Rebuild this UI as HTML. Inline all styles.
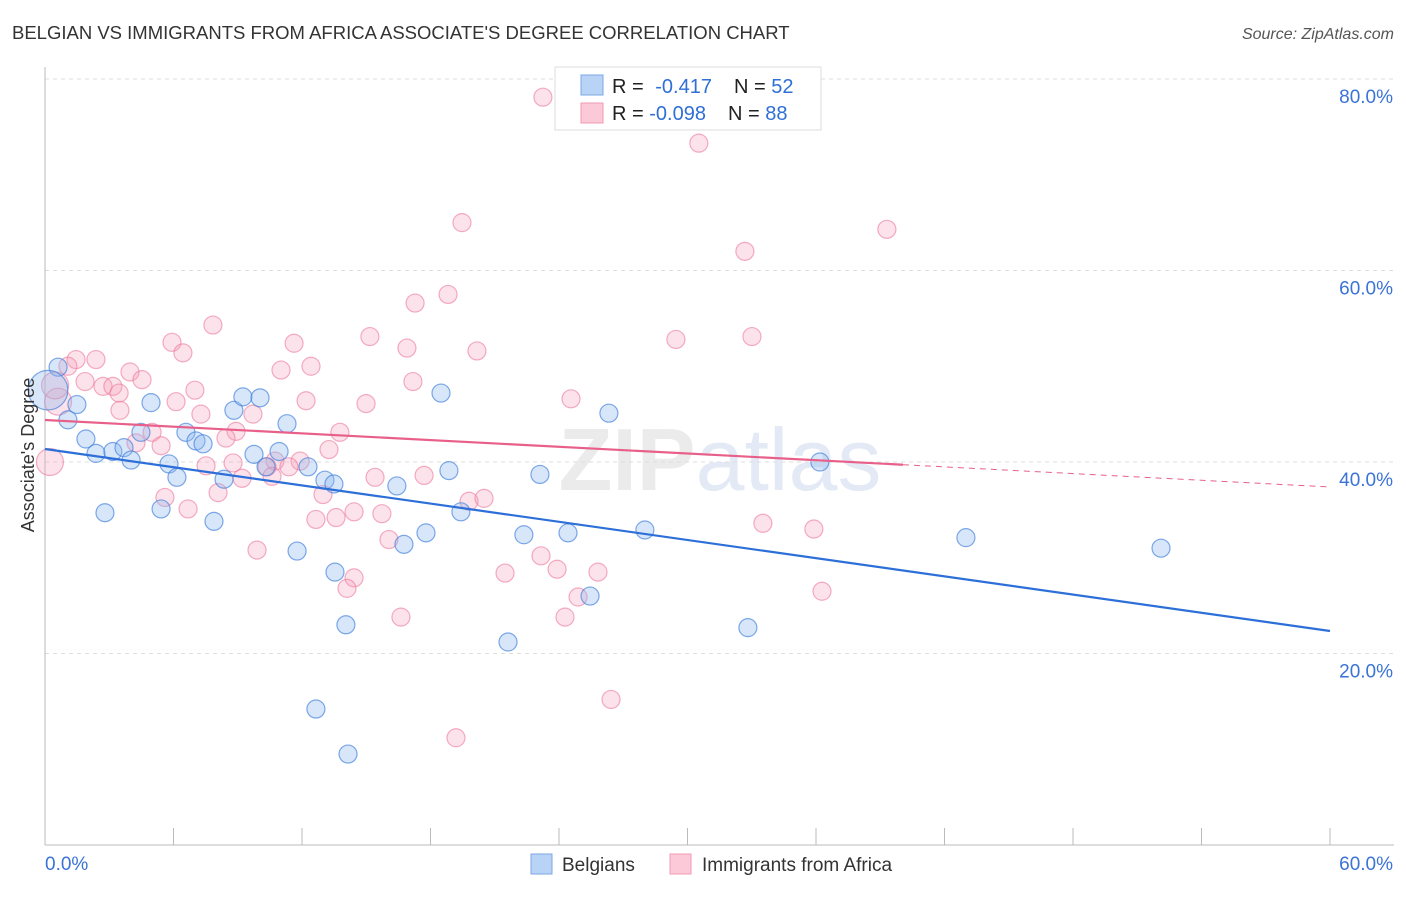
<!DOCTYPE html>
<html><head><meta charset="utf-8"><style>
body{margin:0;background:#fff;font-family:"Liberation Sans",sans-serif;}
svg text{font-family:"Liberation Sans",sans-serif;}
</style></head><body>
<svg id="chart" width="1406" height="892" xmlns="http://www.w3.org/2000/svg">
<text x="12" y="39" font-size="18.5" fill="#333">BELGIAN VS IMMIGRANTS FROM AFRICA ASSOCIATE'S DEGREE CORRELATION CHART</text>
<text x="1394" y="39" font-size="16" fill="#555" font-style="italic" text-anchor="end">Source: ZipAtlas.com</text>
<text x="720" y="490" font-size="88" fill="#ebebeb" text-anchor="middle" font-weight="bold">ZIP<tspan fill="#e3eaf6" font-weight="normal">atlas</tspan></text>
<g id="grid"></g>
<g id="axes"></g>
<g id="marks"></g>
<g id="trends"></g>
<text transform="translate(34,455) rotate(-90)" font-size="18" fill="#333" text-anchor="middle">Associate's Degree</text>
<g>
<rect x="555" y="67" width="266" height="63" fill="#fff" stroke="#ddd"/>
<rect x="581" y="75" width="22" height="20" fill="#b9d3f6" stroke="#7aa7e6"/>
<rect x="581" y="103" width="22" height="20" fill="#fbc9d7" stroke="#f19ab3"/>
<text x="612" y="93" font-size="20" fill="#222">R = <tspan fill="#2f6fd6" dx="6">-0.417</tspan><tspan dx="22" fill="#222">N = </tspan><tspan fill="#2f6fd6">52</tspan></text>
<text x="612" y="120" font-size="20" fill="#222">R = <tspan fill="#2f6fd6">-0.098</tspan><tspan dx="22" fill="#222">N = </tspan><tspan fill="#2f6fd6">88</tspan></text>
</g>
<g>
<rect x="531" y="854" width="21" height="20" fill="#b9d3f6" stroke="#7aa7e6"/>
<text x="562" y="871" font-size="19" fill="#333">Belgians</text>
<rect x="670" y="854" width="21" height="20" fill="#fbc9d7" stroke="#f19ab3"/>
<text x="702" y="871" font-size="19" fill="#333">Immigrants from Africa</text>
</g>
</svg>
<script>
const blueX=[0.61,1.49,1.07,1.91,2.38,2.80,3.17,3.69,4.02,4.48,4.95,5.42,5.79,6.16,6.58,7.05,7.38,7.89,8.36,8.82,9.24,9.76,10.04,10.32,10.93,11.30,11.77,12.28,12.65,13.07,13.49,13.54,14.05,14.15,16.43,16.76,17.79,18.49,18.86,19.42,21.62,22.36,23.11,24.42,25.45,26.33,28.01,32.82,36.18,43.00,52.11,0.14];
const blueY=[49.9,46.0,44.4,42.4,40.9,34.7,41.1,41.5,40.2,43.1,46.2,35.1,39.8,38.4,43.1,42.2,41.9,33.8,38.2,45.4,46.8,40.8,46.7,39.5,41.1,44.0,30.7,39.5,14.2,38.1,37.7,28.5,23.0,9.5,37.5,31.4,32.6,47.2,39.1,34.8,21.2,32.4,38.7,32.6,26.0,45.1,32.9,22.7,40.0,32.1,31.0,47.5];
const blueSize=[1,1,1,1,1,1,1,1,1,1,1,1,1,1,1,1,1,1,1,1,1,1,1,1,1,1,1,1,1,1,1,1,1,1,1,1,1,1,1,1,1,1,1,1,1,1,1,1,1,1,1,2.2];
const pinkX=[23.25,30.53,19.47,39.31,32.68,18.82,17.28,7.84,15.17,29.46,33.01,5.93,11.63,6.44,16.90,20.17,2.38,1.45,1.07,12.42,11.02,3.97,17.18,4.53,1.87,2.71,3.17,7.00,3.46,14.99,12.19,24.56,6.12,0.61,3.50,7.28,9.71,13.77,8.92,8.45,5.00,4.25,5.42,13.26,10.74,11.91,7.52,10.37,11.39,9.20,15.41,10.60,17.70,8.08,5.60,12.98,19.80,20.50,6.68,14.43,15.73,12.65,13.59,16.06,23.16,9.90,23.91,21.48,25.82,14.43,14.10,24.89,24.28,16.62,33.52,35.90,36.28,26.43,19.19,0.23,0.47,8.78];
const pinkY=[78.1,73.3,65.0,64.3,62.0,57.5,56.6,54.3,53.1,52.8,53.1,52.5,52.4,51.4,51.9,51.6,50.7,50.7,50.0,50.0,49.6,49.4,48.4,48.6,48.4,47.9,47.9,47.5,47.2,46.1,46.4,46.6,46.3,46.3,45.4,45.0,45.0,43.1,43.2,42.5,43.1,42.0,41.7,41.3,40.1,40.1,39.6,39.5,39.5,38.3,38.4,38.5,38.6,36.8,36.3,36.6,35.9,36.2,35.1,34.8,34.6,34.0,34.2,31.9,30.2,30.8,28.8,28.4,28.5,27.9,26.8,25.9,23.8,23.8,33.6,33.0,26.5,15.2,11.2,40.0,48.0,39.9];
const pinkSize=pinkX.map((_,i)=>i===33||i===79||i===80?1.5:1);
const yTicks=[20,40,60,80];
const yTickLabels=["20.0%","40.0%","60.0%","80.0%"];
const xTicks=[0,6,12,18,24,30,36,42,48,54,60];
const xEndLabels=["0.0%","60.0%"];
const blueTrend=[41.36,22.35];
const pinkTrend=[44.39,37.39];
const pinkSolidEnd=40.06;

const NS="http://www.w3.org/2000/svg";
const X0=45,X1=1330,Y0=845,Y80=79;
const sx=v=>X0+(v/60)*(X1-X0);
const sy=v=>Y0-(v/80)*(Y0-Y80);
function mk(tag,attrs,parent){const e=document.createElementNS(NS,tag);for(const k in attrs)e.setAttribute(k,attrs[k]);document.getElementById(parent).appendChild(e);return e;}

yTicks.forEach((t,i)=>{
  const g=mk('line',{x1:X0,x2:1394,y1:sy(t),y2:sy(t),stroke:'#ddd','stroke-dasharray':'4,4'},'grid');
  
  
  const l=mk('text',{x:1393,y:sy(t)+24,'font-size':19,fill:'#3b73d6','text-anchor':'end'},'axes');
  l.textContent=yTickLabels[i];
  
  
});
const ax=mk('line',{x1:X0,x2:X0,y1:67,y2:Y0,stroke:'#bbb'},'axes');


const bx=mk('line',{x1:X0,x2:1394,y1:Y0,y2:Y0,stroke:'#bbb'},'axes');


xTicks.forEach(t=>{
  const k=mk('line',{x1:sx(t),x2:sx(t),y1:Y0,y2:Y0-17,stroke:'#bbb'},'axes');
  
  
});
const xl0=mk('text',{x:45,y:870,'font-size':19,fill:'#3b73d6'},'axes');xl0.textContent=xEndLabels[0];


const xl1=mk('text',{x:1393,y:870,'font-size':19,fill:'#3b73d6','text-anchor':'end'},'axes');xl1.textContent=xEndLabels[1];



pinkX.forEach((v,i)=>{
  const c=mk('circle',{cx:sx(v),cy:sy(pinkY[i]),r:9*pinkSize[i],fill:'rgba(246,160,185,0.3)',stroke:'rgba(236,120,155,0.6)','stroke-width':1.2},'marks');
  
  
});
blueX.forEach((v,i)=>{
  const c=mk('circle',{cx:sx(v),cy:sy(blueY[i]),r:9*blueSize[i],fill:'rgba(140,182,238,0.35)',stroke:'rgba(60,125,220,0.65)','stroke-width':1.2},'marks');
  
  
});
const bt=mk('line',{x1:sx(0),y1:sy(blueTrend[0]),x2:sx(60),y2:sy(blueTrend[1]),stroke:'#2d6fd8','stroke-width':2.2},'trends');


const pm=pinkTrend[0]+(pinkTrend[1]-pinkTrend[0])*pinkSolidEnd/60;
const pt=mk('line',{x1:sx(0),y1:sy(pinkTrend[0]),x2:sx(pinkSolidEnd),y2:sy(pm),stroke:'#e8608a','stroke-width':2.2},'trends');


const pd=mk('line',{x1:sx(pinkSolidEnd),y1:sy(pm),x2:sx(60),y2:sy(pinkTrend[1]),stroke:'#e8608a','stroke-width':1,'stroke-dasharray':'6,5'},'trends');


</script>
</body></html>
